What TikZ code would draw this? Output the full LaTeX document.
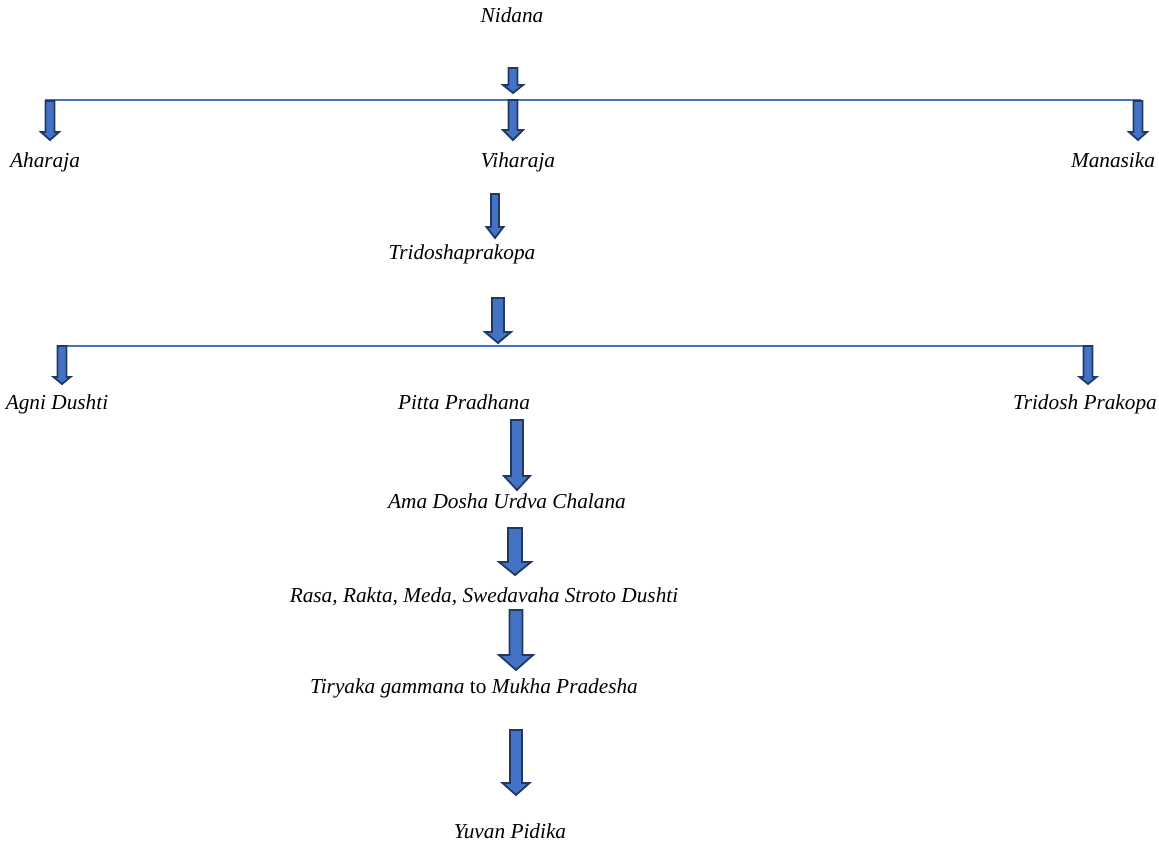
\documentclass[tikz,border=0pt]{standalone}
\usepackage{fontspec}
\setmainfont{Liberation Serif}
\definecolor{arrowfill}{HTML}{4472C4}
\definecolor{arrowedge}{HTML}{1F3864}
\definecolor{barblue}{HTML}{4472C4}
\begin{document}
\begin{tikzpicture}[x=1pt, y=-1pt,
        term/.style={font=\fontsize{21.3}{24}\selectfont\itshape, anchor=base, inner sep=0pt},
        blockarrow/.style={draw=arrowedge, fill=arrowfill, line width=1.8pt, line join=miter},
        branch/.style={draw=barblue, line width=1.1pt}
    ]
        \useasboundingbox (0,0) rectangle (1159,846);
        % text of the chain
        \node[term] (nidana)   at (512,22)   {Nidana};
        \node[term] (aharaja)  at (45,167)   {Aharaja};
        \node[term] (viharaja) at (518,167)  {Viharaja};
        \node[term] (manasika) at (1113,167) {Manasika};
        \node[term] (tridosha) at (462,259)  {Tridoshaprakopa};
        \node[term] (agni)     at (57,409)   {Agni Dushti};
        \node[term] (pitta)    at (464,409)  {Pitta Pradhana};
        \node[term] (prakopa)  at (1085,409) {Tridosh Prakopa};
        \node[term] (ama)      at (507,508)  {Ama Dosha Urdva Chalana};
        \node[term] (rasa)     at (484,602)  {Rasa, Rakta, Meda, Swedavaha Stroto Dushti};
        \node[term] (tiryaka)  at (474,693)  {Tiryaka gammana {\upshape to} Mukha Pradesha};
        \node[term] (yuvan)    at (510,838)  {Yuvan Pidika};
        % branching bars
        \coordinate (barAl) at (45,100);
        \coordinate (barAr) at (1141,100);
        \coordinate (barBl) at (60,346);
        \coordinate (barBr) at (1093,346);
        \draw[branch] (barAl) -- (barAr);
        \draw[branch] (barBl) -- (barBr);
        % block arrows: x / top / tip / half shaft / half head / head length
        \foreach \x/\top/\tip/\s/\h/\l in {
            513/68/93/4.5/10/8, 50/101/140/4.5/9/8, 513/100/140/4.5/10/10,
            1138/101/140/4.5/9/8, 495/194/238/4/8.5/11, 498/298/343/6/13/11,
            62/346/384/4.5/8.5/7, 1088/346/384/4.5/8.5/7, 517/420/490/6/13/14,
            515/528/575/7/16/13, 516/610/670/6.5/17/15, 516/730/795/6/13.5/12} {
            \draw[blockarrow] (\x-\s,\top) -- (\x-\s,\tip-\l) -- (\x-\h,\tip-\l)
                -- (\x,\tip) -- (\x+\h,\tip-\l) -- (\x+\s,\tip-\l) -- (\x+\s,\top) -- cycle;
        }
    \end{tikzpicture}
\end{document}
